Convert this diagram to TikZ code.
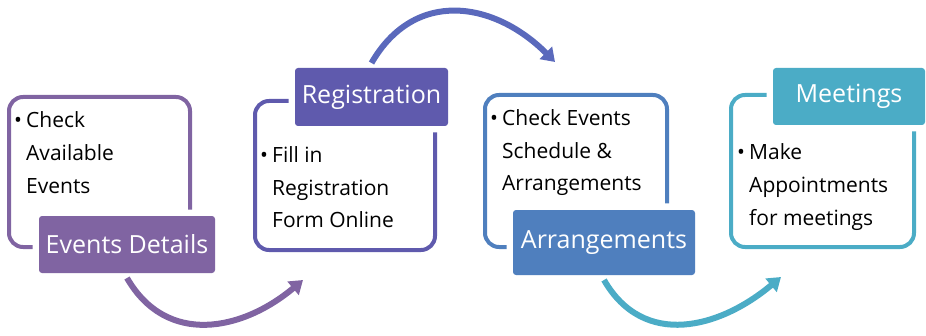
\documentclass[tikz,border=0pt]{standalone}
\usepackage{fontspec}
\setmainfont{Open Sans}
\usetikzlibrary{arrows.meta}
\definecolor{evpurple}{HTML}{8064A2}
\definecolor{regpurple}{HTML}{5F5AAD}
\definecolor{regarrow}{HTML}{5A69BC}
\definecolor{arrblue}{HTML}{4F7FBE}
\definecolor{meetcyan}{HTML}{4BACC6}
\begin{document}
\begin{tikzpicture}[x=1pt,y=1pt,%
% common options for the outlined boxes:
panel/.style = {draw, rectangle, rounded corners=14pt, line width=4pt,
            anchor=north west, inner sep=0},
% common options for the titles:
tag/.style = {rectangle, rounded corners=3pt, preaction={draw=white, line width=13pt},
            anchor=north west, inner sep=0, outer sep=5pt, text=white,
            font=\fontsize{25}{30}\selectfont},
% common options for the bullet texts:
bullets/.style = {anchor=base west, inner sep=0, font=\fontsize{21}{32.5}\selectfont},
% common options for the arrows:
swoop/.style = {line width=6pt, -{Triangle[length=13pt,width=17pt]}}]
\useasboundingbox (0,0) rectangle (926,335);
\node[panel, draw=evpurple, minimum width=181pt, minimum height=150pt] (B1) at (7,240) {};
\node[panel, draw=regpurple, minimum width=180pt, minimum height=149pt] (B2) at (253,236) {};
\node[panel, draw=arrblue, minimum width=182pt, minimum height=152pt] (B3) at (483,242) {};
\node[panel, draw=meetcyan, minimum width=183pt, minimum height=152pt] (B4) at (729,242) {};
\node[bullets] (T1) at (14,207) {\makebox[12pt][l]{•}\parbox[t]{160pt}{Check\\Available\\Events}};
\node[bullets] (T2) at (260,172) {\makebox[12pt][l]{•}\parbox[t]{160pt}{Fill in\\Registration\\Form Online}};
\node[bullets] (T3) at (490,209) {\makebox[12pt][l]{•}\parbox[t]{170pt}{Check Events\\Schedule \&\\Arrangements}};
\node[bullets] (T4) at (737,175) {\makebox[12pt][l]{•}\parbox[t]{170pt}{Make\\Appointments\\for meetings}};
\node[tag, fill=evpurple, minimum width=176pt, minimum height=57pt] (L1) at (34,124) {Events Details};
\node[tag, fill=regpurple, minimum width=153pt, minimum height=58pt] (L2) at (290,272) {Registration};
\node[tag, fill=arrblue, minimum width=182pt, minimum height=65pt] (L3) at (508,130) {Arrangements};
\node[tag, fill=meetcyan, minimum width=152pt, minimum height=57pt] (L4) at (768,272) {Meetings};
\coordinate (E1) at (303,55);
\coordinate (E2) at (555,273);
\coordinate (E3) at (781,58);
\draw[swoop, evpurple] (L1.south) to[out=-60, in=-140, looseness=1.15] (E1);
\draw[swoop, regarrow] (L2.north) to[out=60, in=135, looseness=1.2] (E2);
\draw[swoop, meetcyan] (L3.south) to[out=-60, in=-140, looseness=1.15] (E3);
\end{tikzpicture}
\end{document}
